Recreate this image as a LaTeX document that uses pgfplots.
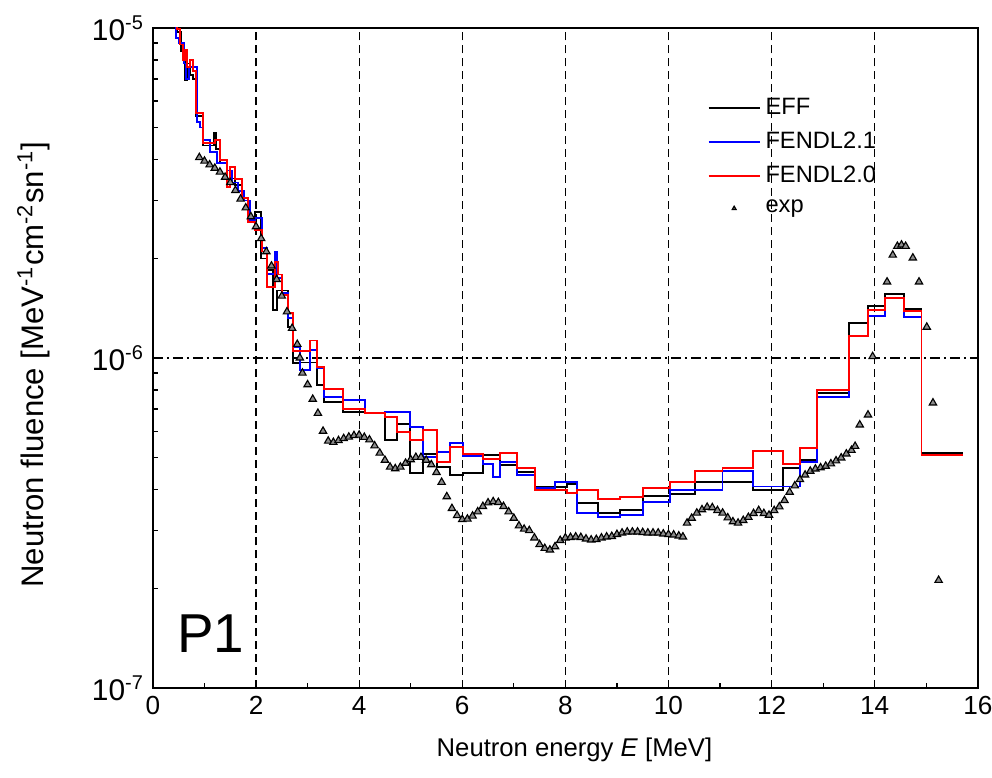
\documentclass[border=0pt]{standalone}
\usepackage{fontspec}
\setmainfont{Liberation Sans}
\usepackage{pgfplots}
\pgfplotsset{compat=1.18}

% step spectra: left bin edge, fluence (last row closes the last bin)
\pgfplotstableread{
E v
0.40 1.10e-5
0.47 9.7e-6
0.55 8.5e-6
0.62 6.96e-6
0.66 7.8e-6
0.72 7.2e-6
0.78 7.0e-6
0.83 5.4e-6
0.97 4.4e-6
1.18 4.8e-6
1.22 4.3e-6
1.30 3.9e-6
1.43 3.5e-6
1.59 3.35e-6
1.73 3.0e-6
1.84 2.6e-6
1.98 2.77e-6
2.10 2.0e-6
2.21 1.85e-6
2.33 1.40e-6
2.40 1.6e-6
2.62 1.24e-6
2.72 9.66e-7
2.85 9.69e-7
3.18 8.28e-7
3.32 7.36e-7
3.69 6.86e-7
4.11 6.81e-7
4.50 5.64e-7
4.73 6.31e-7
4.98 4.48e-7
5.24 5.12e-7
5.51 4.67e-7
5.76 4.42e-7
6.01 4.48e-7
6.40 5.08e-7
6.73 4.74e-7
7.06 4.51e-7
7.41 4.07e-7
8.03 4.15e-7
8.22 3.64e-7
8.63 3.39e-7
9.06 3.46e-7
9.50 3.82e-7
10.03 3.87e-7
10.51 4.21e-7
11.05 4.21e-7
11.64 3.98e-7
12.22 4.64e-7
12.55 4.91e-7
12.88 7.83e-7
13.50 1.277e-6
13.87 1.437e-6
14.20 1.563e-6
14.57 1.408e-6
14.91 5.15e-7
15.71 5.15e-7
}\eff

\pgfplotstableread{
E v
0.40 1.10e-5
0.45 9.3e-6
0.50 9.0e-6
0.60 7.8e-6
0.64 7.0e-6
0.70 7.6e-6
0.76 7.6e-6
0.85 5.2e-6
0.91 4.99e-6
0.97 4.58e-6
1.11 4.2e-6
1.25 3.9e-6
1.43 3.7e-6
1.53 3.4e-6
1.65 3.2e-6
1.77 3.0e-6
1.88 2.62e-6
1.98 2.66e-6
2.11 2.15e-6
2.21 1.80e-6
2.37 2.1e-6
2.40 1.75e-6
2.50 1.57e-6
2.62 1.32e-6
2.72 1.08e-6
2.85 9.2e-7
3.04 1.057e-6
3.18 9.33e-7
3.32 7.62e-7
3.69 7.46e-7
4.11 6.81e-7
4.50 6.86e-7
4.98 6.18e-7
5.24 5.01e-7
5.51 5.19e-7
5.76 5.52e-7
6.01 5.05e-7
6.40 4.77e-7
6.60 4.36e-7
6.73 4.84e-7
7.06 4.42e-7
7.41 4.04e-7
7.80 4.21e-7
8.22 3.39e-7
8.63 3.30e-7
9.06 3.35e-7
9.50 3.66e-7
10.03 3.98e-7
11.05 4.55e-7
11.64 4.08e-7
12.55 4.84e-7
12.88 7.62e-7
13.50 1.166e-6
13.87 1.34e-6
14.20 1.52e-6
14.57 1.33e-6
14.91 5.08e-7
15.71 5.08e-7
}\fendlb

\pgfplotstableread{
E v
0.40 1.10e-5
0.47 9.9e-6
0.52 8.9e-6
0.58 8.0e-6
0.62 8.6e-6
0.66 7.6e-6
0.72 8.0e-6
0.78 7.4e-6
0.83 5.52e-6
0.97 4.48e-6
1.20 4.58e-6
1.30 3.98e-6
1.43 3.30e-6
1.50 3.79e-6
1.59 3.48e-6
1.73 3.05e-6
1.84 2.58e-6
1.98 2.44e-6
2.11 2.10e-6
2.21 1.64e-6
2.37 1.95e-6
2.42 1.79e-6
2.50 1.55e-6
2.62 1.37e-6
2.72 1.05e-6
3.04 1.13e-6
3.18 9.4e-7
3.32 8.05e-7
3.69 7.0e-7
4.11 6.81e-7
4.50 6.63e-7
4.73 5.97e-7
4.98 5.64e-7
5.24 6.05e-7
5.51 4.84e-7
5.76 5.37e-7
6.01 5.12e-7
6.40 4.94e-7
6.73 5.15e-7
7.06 4.64e-7
7.41 3.98e-7
8.03 3.90e-7
8.22 3.98e-7
8.63 3.74e-7
9.06 3.79e-7
9.50 4.04e-7
10.03 4.21e-7
10.51 4.55e-7
11.05 4.64e-7
11.64 5.23e-7
12.22 4.77e-7
12.55 5.34e-7
12.88 8.0e-7
13.50 1.166e-6
13.87 1.398e-6
14.20 1.52e-6
14.57 1.388e-6
14.91 5.08e-7
15.71 5.08e-7
}\fendla

\pgfplotstableread{
E v
0.90 4.05e-6
1.00 3.95e-6
1.10 3.85e-6
1.20 3.76e-6
1.30 3.66e-6
1.40 3.53e-6
1.50 3.40e-6
1.60 3.22e-6
1.70 3.03e-6
1.80 2.85e-6
1.90 2.68e-6
2.00 2.50e-6
2.10 2.30e-6
2.20 2.10e-6
2.30 1.90e-6
2.40 1.73e-6
2.50 1.54e-6
2.60 1.38e-6
2.70 1.23e-6
2.80 1.10e-6
2.85 1.00e-6
2.90 9.0e-7
3.00 8.3e-7
3.10 7.5e-7
3.20 6.8e-7
3.30 6.0e-7
3.40 5.6e-7
3.50 5.55e-7
3.60 5.62e-7
3.70 5.70e-7
3.80 5.76e-7
3.90 5.82e-7
4.00 5.84e-7
4.10 5.75e-7
4.20 5.65e-7
4.30 5.42e-7
4.40 5.15e-7
4.50 4.90e-7
4.60 4.67e-7
4.70 4.62e-7
4.80 4.67e-7
4.90 4.80e-7
5.00 4.92e-7
5.10 5.00e-7
5.20 5.00e-7
5.30 4.90e-7
5.40 4.75e-7
5.50 4.50e-7
5.60 4.20e-7
5.70 3.80e-7
5.80 3.50e-7
5.90 3.33e-7
6.00 3.24e-7
6.10 3.25e-7
6.20 3.32e-7
6.30 3.42e-7
6.40 3.55e-7
6.50 3.64e-7
6.60 3.67e-7
6.70 3.65e-7
6.80 3.55e-7
6.90 3.42e-7
7.00 3.27e-7
7.10 3.10e-7
7.20 3.03e-7
7.30 3.00e-7
7.40 2.85e-7
7.50 2.72e-7
7.60 2.65e-7
7.70 2.62e-7
7.80 2.68e-7
7.90 2.80e-7
8.00 2.85e-7
8.10 2.86e-7
8.20 2.87e-7
8.30 2.86e-7
8.40 2.83e-7
8.50 2.81e-7
8.60 2.82e-7
8.70 2.85e-7
8.80 2.87e-7
8.90 2.88e-7
9.00 2.92e-7
9.10 2.95e-7
9.20 2.97e-7
9.30 2.97e-7
9.40 2.97e-7
9.50 2.96e-7
9.60 2.95e-7
9.70 2.95e-7
9.80 2.95e-7
9.90 2.93e-7
10.00 2.92e-7
10.10 2.91e-7
10.20 2.89e-7
10.28 2.87e-7
10.36 3.16e-7
10.45 3.27e-7
10.55 3.39e-7
10.65 3.47e-7
10.75 3.53e-7
10.85 3.52e-7
10.95 3.45e-7
11.05 3.39e-7
11.15 3.28e-7
11.25 3.19e-7
11.35 3.16e-7
11.45 3.22e-7
11.55 3.29e-7
11.65 3.38e-7
11.75 3.45e-7
11.85 3.38e-7
11.95 3.34e-7
12.05 3.45e-7
12.15 3.54e-7
12.25 3.70e-7
12.35 3.92e-7
12.45 4.10e-7
12.55 4.28e-7
12.65 4.42e-7
12.75 4.54e-7
12.85 4.61e-7
12.95 4.65e-7
13.05 4.70e-7
13.15 4.78e-7
13.25 4.88e-7
13.35 4.98e-7
13.45 5.12e-7
13.55 5.25e-7
13.62 5.40e-7
13.71 6.27e-7
13.87 6.72e-7
13.96 1.01e-6
14.24 1.70e-6
14.35 2.05e-6
14.44 2.18e-6
14.52 2.20e-6
14.60 2.18e-6
14.74 2.01e-6
14.86 1.70e-6
15.01 1.24e-6
15.13 7.31e-7
15.24 2.12e-7
}\expdata

\begin{document}
\begin{tikzpicture}
\useasboundingbox (-61.4pt,-36.1pt) rectangle (336.9pt,276.2pt);
\begin{axis}[
    scale only axis,
    width=331.2pt, height=265pt,
    xmin=0, xmax=16,
    ymin=1e-7, ymax=1e-5,
    ymode=log,
    xtick={0,2,...,16},
    minor x tick num=1,
    ytick={1e-7,1e-6,1e-5},
    yticklabels={10\textsuperscript{-7},10\textsuperscript{-6},10\textsuperscript{-5}},
    /pgf/number format/assume math mode=true,
    tick align=inside,
    xtick pos=bottom, ytick pos=left,
    major tick length=2.8pt, minor tick length=2pt,
    every tick/.append style={black, line width=0.5pt},
    axis line style={line width=0.8pt},
    xmajorgrids, ymajorgrids,
    x grid style={black, line width=0.5pt, dash pattern=on 3.2pt off 2pt},
    y grid style={black, line width=0.5pt, dash pattern=on 4pt off 1.6pt on 0.8pt off 1.6pt},
    xticklabel style={font=\fontsize{10.5}{12}\selectfont},
    yticklabel style={font=\fontsize{12}{14}\selectfont},
    xlabel style={font=\fontsize{10.3}{12}\selectfont,
        at={(axis description cs:0.511,-0.094)}, anchor=center},
    ylabel style={font=\fontsize{12.5}{14}\selectfont,
        at={(axis description cs:-0.145,0.49)}, anchor=center},
    xlabel={Neutron energy \textit{E} [MeV]},
    ylabel={Neutron fluence [MeV\textsuperscript{-1}cm\textsuperscript{-2}sn\textsuperscript{-1}]},
    legend style={draw=none, fill=none, at={(axis description cs:0.663,0.91)},
        anchor=north west, font=\fontsize{9.5}{11}\selectfont,
        row sep=1.6pt},
    legend cell align=left,
    legend image code/.code={\draw[#1] (-0.22cm,0cm) -- (0.5cm,0cm);},
]
\addplot[const plot mark left, black, line width=0.7pt] table[x=E, y=v] {\eff};
\addlegendentry{EFF}
\addplot[const plot mark left, blue, line width=0.7pt] table[x=E, y=v] {\fendlb};
\addlegendentry{FENDL2.1}
\addplot[const plot mark left, red, line width=0.7pt] table[x=E, y=v] {\fendla};
\addlegendentry{FENDL2.0}
\addplot[only marks, mark=triangle*, mark size=1.7pt,
    mark options={draw=black, fill=black!45, line width=0.45pt},
    legend image code/.code={\draw[black, fill=black!40, line width=0.3pt]
        plot[mark=triangle*, mark size=0.9pt] coordinates {(0.14cm,0cm)};}]
    table[x=E, y=v] {\expdata};
\addlegendentry{exp}
\node[anchor=base west, font=\fontsize{22}{26}\selectfont] at (axis cs:0.3,1.28e-7) {P1};
\end{axis}
\end{tikzpicture}
\end{document}
